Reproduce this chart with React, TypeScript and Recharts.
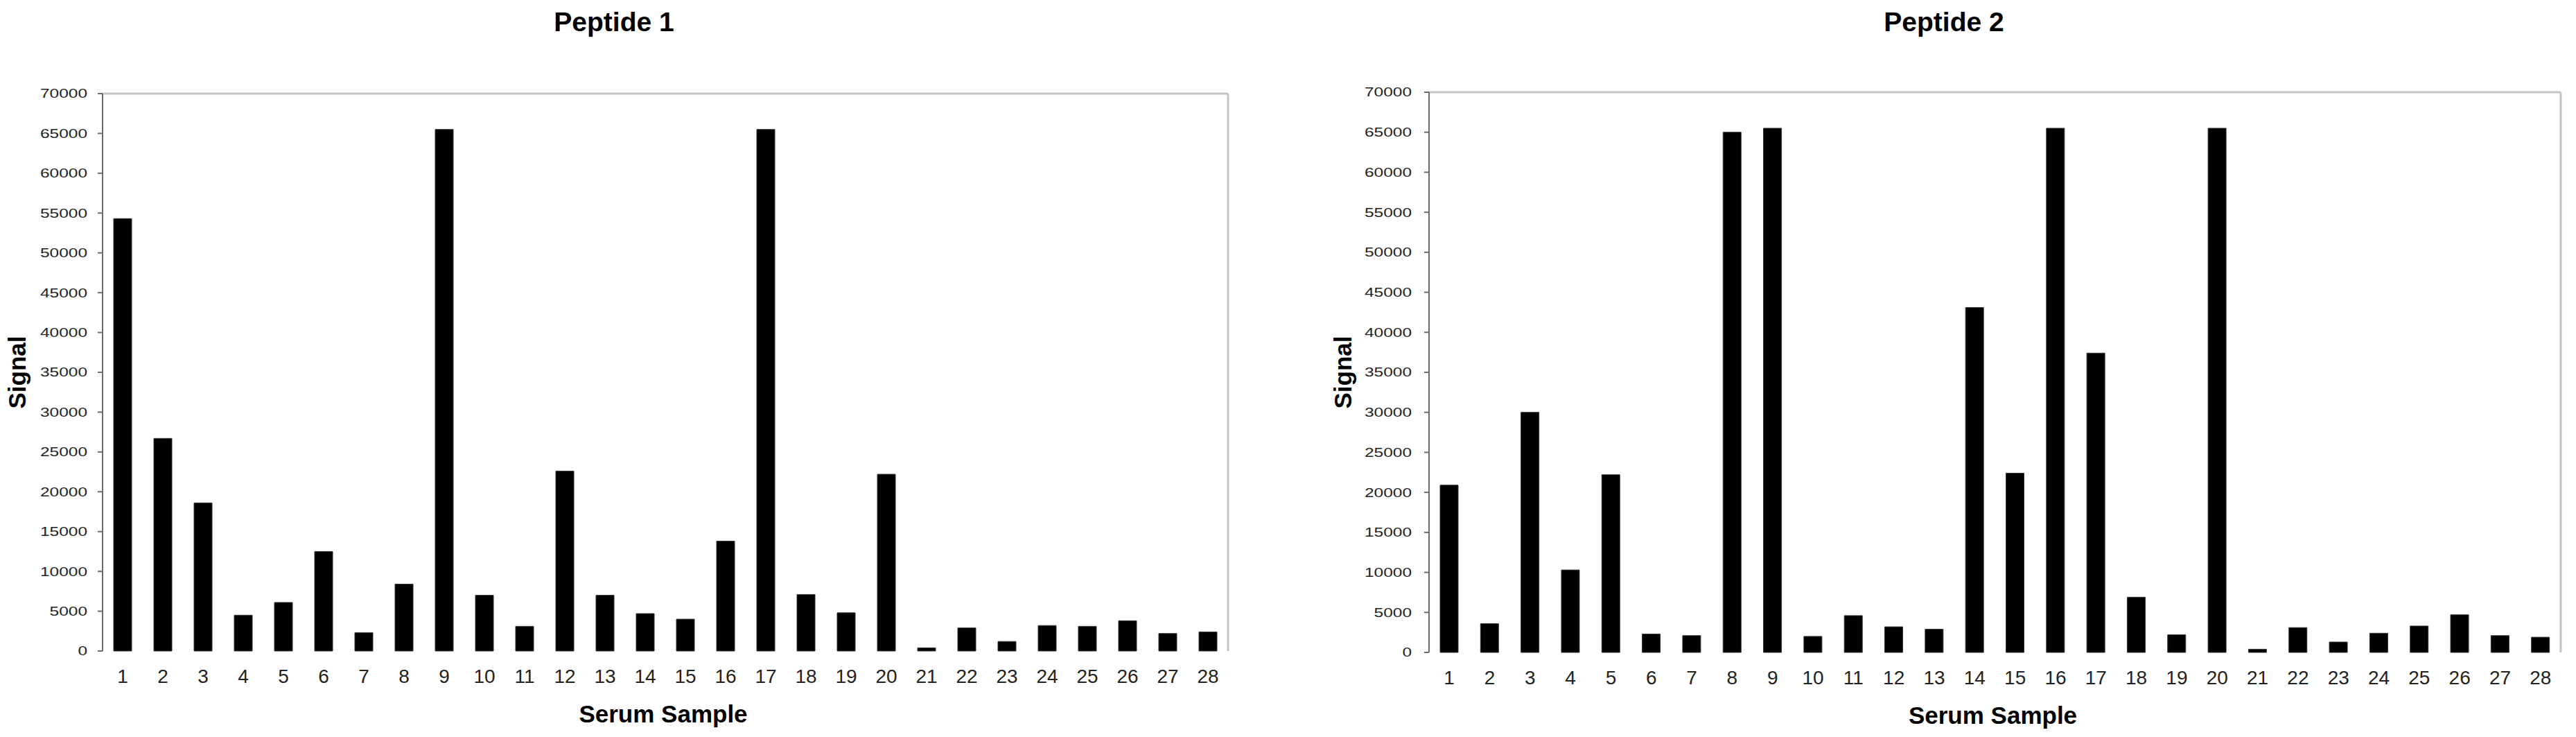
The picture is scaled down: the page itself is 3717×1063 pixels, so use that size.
import React from 'react';
import { BarChart, Bar, XAxis, YAxis, ReferenceLine } from 'recharts';

const samples = ['1','2','3','4','5','6','7','8','9','10','11','12','13','14','15','16','17','18','19','20','21','22','23','24','25','26','27','28'];
const peptide1 = [54300, 26700, 18600, 4500, 6100, 12500, 2300, 8400, 65500, 7000, 3100, 22600, 7000, 4700, 4000, 13800, 65500, 7100, 4800, 22200, 400, 2900, 1200, 3200, 3100, 3800, 2200, 2400];
const peptide2 = [20900, 3600, 30000, 10300, 22200, 2300, 2100, 65000, 65500, 2000, 4600, 3200, 2900, 43100, 22400, 65500, 37400, 6900, 2200, 65500, 400, 3100, 1300, 2400, 3300, 4700, 2100, 1900];
const yTicks = [0, 5000, 10000, 15000, 20000, 25000, 30000, 35000, 40000, 45000, 50000, 55000, 60000, 65000, 70000];
const titles = ['Peptide 1', 'Peptide 2'];
const xTitle = 'Serum Sample';
const yTitle = 'Signal';

const edgeTicks = samples.map((_, i) => i + 0.5).concat([samples.length + 0.5]);

const FONT = '"Liberation Sans", Arial, Helvetica, sans-serif';
const AXIS = '#6a6a6a';
const BORDER = '#c4c4c4';

function buildRows(values: number[]) {
  return samples.map((s, i) => ({ sample: s, idx: i + 1, value: values[i] }));
}

const YTick = (props: any) => {
  const { x, y, payload } = props;
  return (
    <g transform={`translate(${x},${y}) scale(1.36,1)`}>
      <text x={0} y={0} dy="0.36em" textAnchor="end" fontSize={18} fontFamily={FONT} fill="#222">
        {payload.value}
      </text>
    </g>
  );
};

const XTick = (props: any) => {
  const { x, y, payload } = props;
  return (
    <text x={x} y={y + 46} textAnchor="middle" fontSize={28} fontFamily={FONT} fill="#222">
      {payload.value}
    </text>
  );
};

type ChartProps = {
  title: string;
  values: number[];
  width: number;
  height: number;
  plotLeft: number;
  plotTop: number;
  rightMargin: number;
  bottomSpace: number;
  tickMargin: number;
  titleCenter: number;
  yLabelX: number;
};

function PeptideChart(p: ChartProps) {
  const rows = buildRows(p.values);
  return (
    <div style={{ position: 'relative', width: p.width, height: p.height, flex: 'none' }}>
      <div
        style={{
          position: 'absolute',
          left: 0,
          top: 4,
          width: p.titleCenter * 2,
          textAlign: 'center',
          fontFamily: FONT,
          fontWeight: 'bold',
          fontSize: 39,
          lineHeight: '39px',
          color: '#000',
        }}
      >
        {p.title}
      </div>
      <BarChart
        width={p.width}
        height={p.height}
        data={rows}
        margin={{ top: p.plotTop, right: p.rightMargin, left: 0, bottom: 0 }}
        barSize={26}
      >
        <XAxis
          xAxisId="edge"
          type="number"
          dataKey="idx"
          domain={[0.5, samples.length + 0.5]}
          ticks={edgeTicks}
          allowDataOverflow
          height={0}
          tick={false}
          tickSize={9}
          tickLine={{ stroke: AXIS, strokeWidth: 2 }}
          axisLine={{ stroke: AXIS, strokeWidth: 2 }}
        />
        <XAxis
          xAxisId="cat"
          dataKey="sample"
          type="category"
          height={p.bottomSpace}
          axisLine={false}
          tickLine={false}
          tickSize={0}
          tickMargin={0}
          interval={0}
          tick={<XTick />}
          label={(lp: any) => {
            const vb = lp.viewBox;
            return (
              <text
                x={vb.x + vb.width / 2 - 3}
                y={vb.y + 103}
                textAnchor="middle"
                fontSize={35}
                fontWeight="bold"
                fontFamily={FONT}
                fill="#000"
              >
                {xTitle}
              </text>
            );
          }}
        />
        <YAxis
          width={p.plotLeft}
          domain={[0, 70000]}
          ticks={yTicks}
          interval={0}
          tickSize={7}
          tickMargin={p.tickMargin}
          tickLine={{ stroke: AXIS, strokeWidth: 2 }}
          axisLine={{ stroke: AXIS, strokeWidth: 2 }}
          tick={<YTick />}
          label={(lp: any) => {
            const vb = lp.viewBox;
            return (
              <text
                transform={`translate(${vb.x + p.yLabelX},${vb.y + vb.height / 2}) rotate(-90)`}
                textAnchor="middle"
                fontSize={35}
                fontWeight="bold"
                fontFamily={FONT}
                fill="#000"
              >
                {yTitle}
              </text>
            );
          }}
        />
        <ReferenceLine xAxisId="edge" y={70000} stroke={BORDER} strokeWidth={3} ifOverflow="extendDomain" />
        <ReferenceLine xAxisId="edge" x={samples.length + 0.5} stroke={BORDER} strokeWidth={3} />
        <Bar xAxisId="cat" dataKey="value" fill="#000" stroke="#333" strokeWidth={1} isAnimationActive={false} />
      </BarChart>
    </div>
  );
}

export default function App() {
  return (
    <div style={{ display: 'flex', width: 3701, height: 1050, background: '#fff' }}>
      <PeptideChart
        title={titles[0]}
        values={peptide1}
        width={1850}
        height={1050}
        plotLeft={140}
        plotTop={127}
        rightMargin={86}
        bottomSpace={119}
        tickMargin={15}
        titleCenter={878}
        yLabelX={29}
      />
      <PeptideChart
        title={titles[1]}
        values={peptide2}
        width={1851}
        height={1050}
        plotLeft={204}
        plotTop={125}
        rightMargin={14}
        bottomSpace={117}
        tickMargin={18}
        titleCenter={947}
        yLabelX={92}
      />
    </div>
  );
}
